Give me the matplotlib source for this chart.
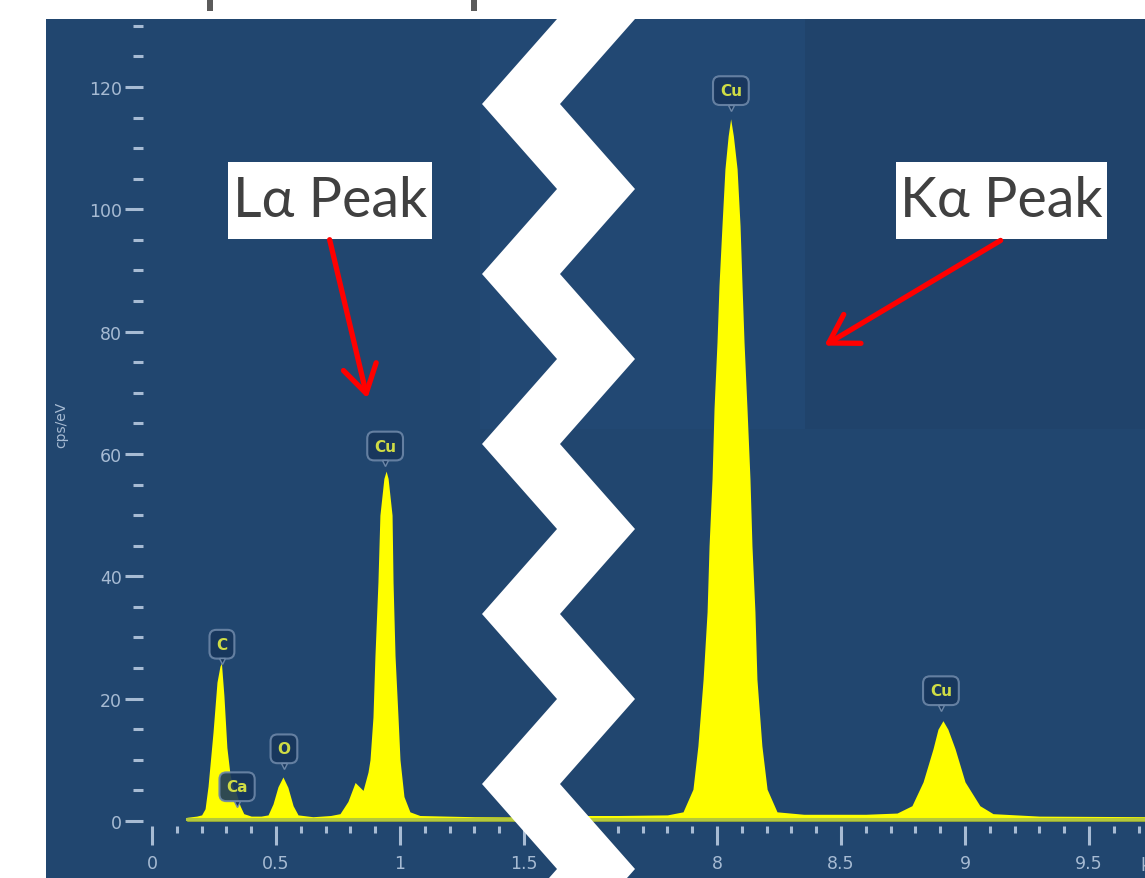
import matplotlib
matplotlib.use("Agg")
import matplotlib.pyplot as plt
from matplotlib.patches import Rectangle, Polygon, FancyArrowPatch
from matplotlib.ticker import MultipleLocator, FixedLocator
from matplotlib.transforms import offset_copy

W, H = 1145, 879

# spectrum: energy (keV) and counts (cps/eV)
low_kev = [0.14, 0.18, 0.20, 0.214, 0.226, 0.246, 0.262, 0.274, 0.280, 0.290,
           0.302, 0.315, 0.327, 0.340, 0.355, 0.370, 0.40, 0.44, 0.468, 0.488,
           0.508, 0.528, 0.548, 0.569, 0.589, 0.649, 0.72, 0.758, 0.790, 0.819,
           0.851, 0.871, 0.879, 0.891, 0.899, 0.911, 0.919, 0.935, 0.944, 0.952,
           0.968, 0.972, 0.980, 0.992, 1.000, 1.016, 1.040, 1.08, 1.3, 1.7]
low_cps = [0.6, 0.8, 1.0, 2.0, 5.7, 14.5, 22.7, 25.3, 25.8, 20.5,
           12.0, 7.5, 5.5, 4.5, 2.5, 1.2, 0.8, 0.8, 1.0, 2.8,
           5.6, 7.2, 5.5, 2.5, 1.0, 0.7, 0.9, 1.2, 3.2, 6.3,
           5.0, 8.0, 10.0, 17.0, 27.0, 39.0, 50.0, 56.0, 57.2, 56.0,
           50.0, 39.0, 27.0, 17.0, 10.0, 4.0, 1.5, 0.9, 0.7, 0.6]

high_kev = [7.35, 7.6, 7.8, 7.863, 7.903, 7.923, 7.944, 7.960, 7.968, 7.980,
            7.988, 8.000, 8.008, 8.020, 8.032, 8.045, 8.055, 8.066, 8.081, 8.093,
            8.101, 8.109, 8.121, 8.133, 8.141, 8.153, 8.161, 8.181, 8.202, 8.242,
            8.35, 8.6, 8.726, 8.786, 8.831, 8.871, 8.891, 8.911, 8.931, 8.960,
            9.000, 9.060, 9.113, 9.3, 9.75]
high_cps = [0.9, 0.9, 1.0, 1.5, 5.2, 12.3, 23.2, 34.2, 45.0, 55.9,
            67.4, 78.3, 87.5, 97.3, 106.6, 112.0, 114.8, 112.0, 106.6, 97.3,
            87.5, 78.3, 67.4, 55.9, 45.0, 34.2, 23.2, 12.3, 5.2, 1.5,
            1.1, 1.1, 1.3, 2.5, 6.4, 11.8, 15.0, 16.4, 15.0, 11.8,
            6.4, 2.5, 1.2, 0.8, 0.7]

# element markers: symbol, energy, label height
tag_names = ["C", "Ca", "O", "Cu", "Cu", "Cu"]
tag_kev = [0.282, 0.343, 0.532, 0.940, 8.056, 8.903]
tag_cps = [28.9, 5.6, 11.8, 61.3, 119.4, 21.3]

panel = "#21466f"
tick_col = "#a7bbd3"
tag_col = "#cfdc45"

fig = plt.figure(figsize=(W / 100, H / 100), dpi=100)
fig.patch.set_facecolor("white")

def px(x, y):
    return (x / W, 1 - y / H)

# dark blue panel, slightly different shades at the top
fig.add_artist(Rectangle(px(46, 879), (W - 46) / W, 859 / H, transform=fig.transFigure,
                         fc=panel, ec="none", zorder=-10))
fig.add_artist(Rectangle(px(805, 430), (W - 805) / W, 410 / H, transform=fig.transFigure,
                         fc="#20436b", ec="none", zorder=-9))
fig.add_artist(Rectangle(px(480, 430), 325 / W, 410 / H, transform=fig.transFigure,
                         fc="#224873", ec="none", zorder=-9))

# bits of something cut off above
for x in (210, 474):
    fig.add_artist(Rectangle(px(x - 3, 12), 6 / W, 12 / H, transform=fig.transFigure,
                             fc="#5b5b5b", ec="none"))

ax_h = 859 / H
ax1 = fig.add_axes([130 / W, 0, 430 / W, ax_h])
ax2 = fig.add_axes([560 / W, 0, 585 / W, ax_h])

ylim = (-(879 - 822) / 6.117, (822 - 20) / 6.117)
ax1.set_xlim(-22 / 248, 408 / 248)
ax2.set_xlim(8 + (560 - 717) / 248, 8 + (1145 - 717) / 248)

for ax, kev, cps in ((ax1, low_kev, low_cps), (ax2, high_kev, high_cps)):
    ax.set_facecolor("none")
    ax.set_ylim(*ylim)
    ax.fill_between(kev, 0, cps, color="#ffff00", lw=0, zorder=2)
    ax.plot([kev[0], kev[-1]], [0.3, 0.3], color="#b4c83c", lw=2.2, zorder=3)
    for s in ax.spines.values():
        s.set_visible(False)
    ax.spines["bottom"].set_position(("data", -0.8))
    ax.xaxis.set_major_locator(MultipleLocator(0.5))
    ax.xaxis.set_minor_locator(MultipleLocator(0.1))
    ax.tick_params(axis="x", which="major", direction="out", length=14, width=2.2,
                   color=tick_col, labelcolor=tick_col, labelsize=12.5, pad=6)
    ax.tick_params(axis="x", which="minor", direction="out", length=5, width=2.2,
                   color=tick_col)
    ax.xaxis.set_major_formatter(plt.FuncFormatter(lambda v, p: f"{v:g}"))

ax1.spines["left"].set_position(("data", -9 / 248))
ax1.yaxis.set_major_locator(FixedLocator([0, 20, 40, 60, 80, 100, 120]))
ax1.yaxis.set_minor_locator(FixedLocator(list(range(5, 131, 5))))
ax1.tick_params(axis="y", which="major", direction="out", length=13, width=2.2,
                color=tick_col, labelcolor=tick_col, labelsize=12.5, pad=2)
ax1.tick_params(axis="y", which="minor", direction="out", length=7, width=2.2,
                color=tick_col)
ax2.tick_params(axis="y", which="both", left=False, labelleft=False)
ax1.set_ylabel("cps/eV", color=tick_col, fontsize=10)
ax1.yaxis.set_label_coords((68 - 130) / 430, (879 - 425) / 859)

fig.text(1140 / W, 1 - 866 / H, "keV", color=tick_col, fontsize=12.5, ha="left", va="center")

# element tags
for name, kev, cps in zip(tag_names, tag_kev, tag_cps):
    ax = ax1 if kev < 2 else ax2
    ax.text(kev, cps, name, ha="center", va="center", fontsize=11, fontweight="bold",
            color=tag_col, zorder=5,
            bbox=dict(boxstyle="round,pad=0.45", fc="#18365c", ec="#6d87a8", lw=1.5, alpha=0.9))
    tr = offset_copy(ax.transData, fig=fig, y=-17, units="dots")
    ax.plot([kev], [cps], marker="v", ms=5, color="#18365c", mec="#6d87a8", transform=tr, zorder=5)

# zigzag break
left_edge = [(557, 20), (482, 105), (557, 190), (482, 275), (557, 360), (482, 445),
             (557, 530), (482, 615), (557, 700), (482, 785), (557, 870), (549, 879)]
right_edge = [(x + 78, y) for x, y in left_edge][::-1]
zig = [px(x, y) for x, y in left_edge + right_edge]
fig.add_artist(Polygon(zig, closed=True, transform=fig.transFigure, fc="white", ec="none", zorder=20))

# callouts
big_font = ["Lato", "DejaVu Sans"]
for (x0, y0, x1, y1), label in (((228, 163, 432, 240), "L\u03b1 Peak"),
                                ((896, 163, 1107, 240), "K\u03b1 Peak")):
    fig.add_artist(Rectangle(px(x0, y1), (x1 - x0) / W, (y1 - y0) / H,
                             transform=fig.transFigure, fc="white", ec="none", zorder=21))
    fig.text((x0 + x1) / 2 / W, 1 - (y0 + y1) / 2 / H, label, ha="center", va="center",
             fontsize=40, color="#404040", family=big_font, zorder=22)

for a, b in (((329, 238), (368, 402)), ((1003, 240), (822, 348))):
    fig.add_artist(FancyArrowPatch(px(*a), px(*b), transform=fig.transFigure,
                                   arrowstyle="->,head_length=0.9,head_width=0.55",
                                   mutation_scale=22, color="#ff0000", lw=3.8, zorder=22))

fig.savefig("out.png", dpi=100, facecolor="white")
